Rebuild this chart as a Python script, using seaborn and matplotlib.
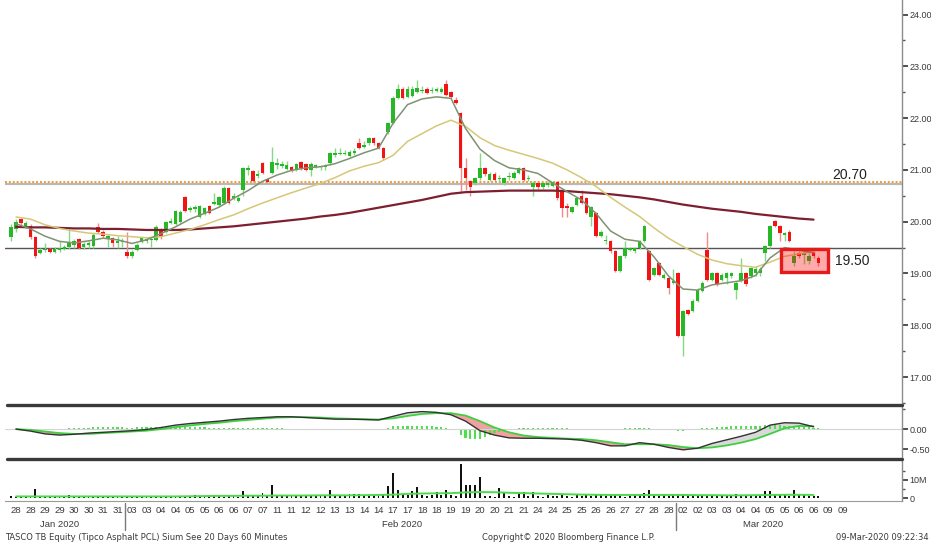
import numpy as np
import seaborn as sns
import matplotlib.pyplot as plt
from matplotlib.lines import Line2D
from matplotlib.patches import Rectangle

# ---- hourly candles, 28 Jan - 06 Mar 2020 (3 bars per half-day) ----
opens = [
    19.70, 19.85, 20.05, 19.92, 19.92, 19.70, 19.40, 19.45, 19.48, 19.42, 19.45, 19.48,
    19.52, 19.55, 19.66, 19.52, 19.55, 19.53, 19.90, 19.80, 19.66, 19.68, 19.58, 19.60,
    19.42, 19.33, 19.45, 19.60, 19.62, 19.64, 19.65, 19.85, 19.80, 19.98, 19.95, 20.00,
    20.47, 20.22, 20.25, 20.10, 20.15, 20.30, 20.35, 20.33, 20.36, 20.65, 20.45, 20.40,
    20.62, 21.00, 20.97, 20.88, 21.13, 20.82, 20.94, 21.10, 21.08, 21.02, 21.06, 21.00,
    21.16, 21.12, 21.00, 21.06, 21.05, 21.05, 21.13, 21.28, 21.30, 21.30, 21.26, 21.33,
    21.51, 21.45, 21.51, 21.61, 21.51, 21.42, 21.74, 21.90, 22.38, 22.57, 22.40, 22.42,
    22.51, 22.52, 22.57, 22.52, 22.53, 22.50, 22.65, 22.50, 22.35, 22.09, 21.03, 20.78,
    20.74, 20.84, 21.03, 20.80, 20.93, 20.82, 20.74, 20.86, 20.84, 20.94, 21.03, 20.82,
    20.67, 20.74, 20.67, 20.70, 20.68, 20.76, 20.58, 20.30, 20.18, 20.33, 20.49, 20.46,
    20.10, 20.17, 19.72, 19.62, 19.62, 19.43, 19.04, 19.33, 19.46, 19.43, 19.49, 19.62,
    19.43, 18.98, 19.20, 18.92, 18.92, 18.82, 19.01, 17.80, 18.29, 18.28, 18.47, 18.66,
    19.46, 18.88, 19.01, 18.88, 18.92, 18.95, 18.69, 18.86, 19.01, 18.95, 19.01, 19.01,
    19.40, 19.53, 20.01, 19.91, 19.75, 19.81, 19.21, 19.40, 19.36, 19.24, 19.40, 19.30,
]
highs = [
    19.95, 20.05, 20.08, 20.02, 19.95, 19.72, 19.50, 19.58, 19.50, 19.52, 19.62, 19.55,
    19.90, 19.66, 19.68, 19.60, 19.62, 19.78, 19.97, 19.83, 19.76, 19.70, 19.72, 19.68,
    19.80, 19.45, 19.58, 19.70, 19.70, 19.70, 19.93, 19.87, 20.02, 20.08, 20.22, 20.22,
    20.49, 20.30, 20.33, 20.33, 20.28, 20.32, 20.55, 20.50, 20.68, 20.67, 20.55, 20.52,
    21.06, 21.10, 21.00, 21.00, 21.16, 20.85, 21.45, 21.22, 21.18, 21.18, 21.08, 21.14,
    21.18, 21.14, 21.15, 21.12, 21.10, 21.12, 21.34, 21.42, 21.42, 21.38, 21.38, 21.42,
    21.61, 21.55, 21.63, 21.63, 21.53, 21.45, 21.93, 22.42, 22.65, 22.60, 22.62, 22.62,
    22.73, 22.62, 22.60, 22.60, 22.60, 22.60, 22.73, 22.53, 22.40, 22.12, 21.22, 20.80,
    20.86, 21.32, 21.05, 20.96, 20.95, 20.90, 20.86, 20.95, 20.97, 21.05, 21.05, 20.90,
    20.78, 20.76, 20.77, 20.78, 20.78, 20.78, 20.60, 20.36, 20.30, 20.48, 20.62, 20.48,
    20.31, 20.19, 19.84, 19.75, 19.65, 19.46, 19.35, 19.62, 19.52, 19.52, 19.65, 19.93,
    19.46, 19.13, 19.22, 19.00, 18.95, 19.08, 19.03, 18.30, 18.31, 18.50, 18.71, 18.85,
    19.81, 19.03, 19.03, 19.00, 19.03, 19.03, 18.85, 19.30, 19.03, 19.13, 19.15, 19.13,
    19.55, 19.93, 20.03, 19.93, 19.81, 19.83, 19.43, 19.43, 19.43, 19.40, 19.43, 19.33,
]
lows = [
    19.62, 19.80, 19.93, 19.88, 19.66, 19.30, 19.38, 19.42, 19.40, 19.40, 19.42, 19.45,
    19.48, 19.50, 19.48, 19.48, 19.50, 19.50, 19.78, 19.68, 19.52, 19.52, 19.50, 19.52,
    19.30, 19.30, 19.43, 19.58, 19.58, 19.52, 19.63, 19.66, 19.78, 19.95, 19.93, 19.98,
    20.18, 20.18, 20.18, 20.08, 20.12, 20.15, 20.32, 20.30, 20.34, 20.34, 20.42, 20.38,
    20.50, 20.90, 20.76, 20.85, 20.92, 20.75, 20.92, 21.02, 21.04, 21.00, 20.95, 20.98,
    21.00, 20.98, 20.88, 21.03, 21.00, 21.00, 21.10, 21.25, 21.28, 21.28, 21.24, 21.28,
    21.40, 21.43, 21.49, 21.49, 21.40, 21.20, 21.70, 21.88, 22.36, 22.36, 22.38, 22.40,
    22.48, 22.48, 22.46, 22.48, 22.50, 22.48, 22.43, 22.38, 22.28, 20.58, 20.62, 20.49,
    20.70, 20.80, 20.88, 20.78, 20.78, 20.76, 20.70, 20.80, 20.82, 20.92, 20.78, 20.78,
    20.49, 20.64, 20.64, 20.66, 20.66, 20.42, 20.10, 20.10, 20.16, 20.30, 20.34, 20.15,
    19.91, 19.70, 19.70, 19.56, 19.40, 19.02, 19.02, 19.30, 19.43, 19.40, 19.47, 19.60,
    18.85, 18.95, 18.95, 18.90, 18.60, 18.80, 17.77, 17.41, 18.19, 18.26, 18.45, 18.64,
    18.85, 18.85, 18.76, 18.86, 18.80, 18.92, 18.50, 18.84, 18.76, 18.92, 18.95, 18.95,
    19.24, 19.50, 19.89, 19.62, 19.62, 19.60, 19.15, 19.30, 19.18, 19.18, 19.30, 19.15,
]
closes = [
    19.90, 20.00, 19.97, 19.98, 19.70, 19.34, 19.46, 19.48, 19.42, 19.48, 19.50, 19.50,
    19.60, 19.62, 19.50, 19.56, 19.57, 19.75, 19.80, 19.72, 19.72, 19.58, 19.62, 19.63,
    19.33, 19.42, 19.55, 19.68, 19.66, 19.66, 19.90, 19.70, 20.00, 20.02, 20.20, 20.18,
    20.20, 20.26, 20.27, 20.30, 20.26, 20.17, 20.38, 20.48, 20.65, 20.36, 20.50, 20.45,
    21.03, 21.03, 20.78, 20.92, 20.94, 20.77, 21.15, 21.13, 21.11, 21.10, 20.97, 21.12,
    21.03, 21.00, 21.12, 21.09, 21.07, 21.08, 21.32, 21.33, 21.33, 21.33, 21.35, 21.36,
    21.42, 21.48, 21.61, 21.51, 21.42, 21.22, 21.90, 22.38, 22.57, 22.38, 22.57, 22.57,
    22.58, 22.55, 22.48, 22.55, 22.56, 22.57, 22.45, 22.41, 22.30, 21.03, 20.84, 20.67,
    20.84, 21.03, 20.92, 20.93, 20.80, 20.85, 20.84, 20.88, 20.94, 21.03, 20.81, 20.85,
    20.74, 20.67, 20.74, 20.74, 20.76, 20.46, 20.26, 20.26, 20.28, 20.46, 20.36, 20.17,
    20.29, 19.72, 19.81, 19.65, 19.43, 19.04, 19.33, 19.49, 19.49, 19.49, 19.62, 19.91,
    18.88, 19.11, 18.98, 18.98, 18.72, 18.85, 17.79, 18.28, 18.21, 18.47, 18.69, 18.82,
    18.88, 19.01, 18.79, 18.98, 19.01, 19.01, 18.82, 19.01, 18.79, 19.11, 19.08, 19.08,
    19.53, 19.91, 19.91, 19.78, 19.78, 19.62, 19.33, 19.33, 19.38, 19.33, 19.33, 19.21,
]

# volume per bar, millions of shares
volume = [
    1.2, 0.8, 0.9, 0.7, 1.0, 4.9, 0.8, 0.9, 0.7, 1.1, 0.8, 0.7, 2.0, 0.9, 0.8, 0.7, 1.0, 1.5, 0.8, 0.7, 0.9, 0.8, 0.7, 0.9,
    1.5, 0.8, 0.7, 0.9, 0.8, 0.9, 1.0, 0.8, 1.2, 0.9, 1.3, 1.0, 0.8, 1.1, 1.6, 1.2, 0.9, 1.0, 1.5, 1.0, 0.9, 1.2, 1.0, 0.9,
    4.2, 1.5, 1.0, 1.8, 2.8, 1.2, 7.1, 1.6, 1.4, 1.2, 1.3, 1.2, 1.3, 1.1, 1.0, 1.2, 1.6, 1.8, 4.6, 1.2, 1.0, 1.5, 2.5, 2.5,
    2.6, 1.2, 1.0, 1.3, 1.4, 1.6, 6.7, 13.7, 4.6, 1.8, 1.6, 3.8, 6.0, 1.8, 1.5, 1.9, 3.3, 1.8, 4.6, 1.6, 1.5, 19.0, 7.5, 7.5,
    7.5, 11.5, 1.0, 1.2, 0.8, 5.5, 3.0, 1.2, 0.8, 3.0, 3.5, 1.0, 3.2, 1.2, 0.9, 1.6, 1.2, 1.5, 2.5, 1.5, 0.9, 1.8, 1.5, 1.6,
    1.2, 1.6, 1.7, 1.4, 1.6, 2.5, 1.2, 0.9, 1.1, 1.6, 1.8, 3.0, 4.6, 1.3, 1.0, 1.6, 1.4, 2.5, 2.5, 1.8, 1.0, 1.6, 1.5, 1.2,
    1.6, 1.0, 1.4, 1.2, 1.6, 1.2, 2.5, 1.4, 1.0, 1.2, 1.6, 1.8, 4.0, 4.0, 2.0, 1.7, 1.6, 1.3, 4.4, 1.6, 2.5, 1.2, 1.0, 1.4,
]

# MACD histogram per bar
macd_hist = [
    0.0, -0.01, -0.02, -0.02, -0.03, -0.03, -0.03, -0.02, -0.02, -0.01, 0.0, 0.01, 0.02, 0.03, 0.03,
    0.04, 0.04, 0.05, 0.05, 0.05, 0.05, 0.05, 0.05, 0.05, 0.04, 0.04, 0.05, 0.05, 0.06, 0.06, 0.06, 0.06, 0.06, 0.06, 0.06, 0.05,
    0.05, 0.05, 0.05, 0.05, 0.05, 0.04, 0.04, 0.04, 0.04, 0.04, 0.04, 0.03, 0.03, 0.03, 0.03, 0.03, 0.02, 0.02, 0.02, 0.02, 0.02,
    0.01, 0.01, 0.01, 0.0, 0.0, 0.0, 0.0, -0.01, -0.01, -0.01, -0.01, -0.01, -0.01, -0.01, -0.01, -0.01, -0.01, 0.0, 0.0, 0.0, 0.01,
    0.04, 0.07, 0.09, 0.09, 0.09, 0.08, 0.08, 0.08, 0.07, 0.07, 0.06, 0.05,
    0.03, 0.01, -0.02,
    -0.15, -0.22, -0.25, -0.25, -0.24, -0.2, -0.15, -0.1, -0.06,
    0.0, 0.01, 0.01, 0.02, 0.02, 0.02, 0.02, 0.02, 0.02, 0.02, 0.02, 0.02, 0.02, 0.02, 0.01, 0.01, 0.01, 0.01, 0.01, 0.0, 0.0, -0.01, -0.01, 0.0,
    0.01, 0.02, 0.03, 0.03, 0.03, 0.04, 0.02, 0.0, -0.01, -0.02, -0.02,
    -0.03, -0.04, -0.04, -0.03, -0.02, 0.0, 0.02,
    0.03, 0.04, 0.05, 0.06, 0.06, 0.07, 0.07, 0.08, 0.08, 0.08, 0.08, 0.09, 0.1, 0.1, 0.1, 0.1, 0.09, 0.09, 0.08, 0.07, 0.06, 0.05, 0.04, 0.03,
]

# values read at the middle bar of each half-day
ma_fast = [
    19.96, 19.86, 19.72, 19.62, 19.59, 19.63, 19.68, 19.65, 19.58, 19.65, 19.77, 19.90, 20.05, 20.16,
    20.28, 20.45, 20.60, 20.78, 20.90, 20.99, 21.04, 21.06, 21.12, 21.22, 21.33, 21.42, 21.90, 22.26,
    22.37, 22.41, 22.38, 21.80, 21.40, 21.18, 21.04, 21.00, 20.93, 20.75, 20.58, 20.42, 20.16, 19.82,
    19.66, 19.62, 19.32, 18.95, 18.70, 18.68, 18.78, 18.82, 18.86, 18.96, 19.30, 19.50, 19.45, 19.40,
]
ma_mid = [
    20.09, 20.05, 19.94, 19.87, 19.82, 19.78, 19.76, 19.73, 19.71, 19.69, 19.71, 19.78, 19.85, 19.94,
    20.04, 20.13, 20.25, 20.36, 20.46, 20.56, 20.65, 20.74, 20.85, 20.98, 21.07, 21.14, 21.28, 21.55,
    21.70, 21.85, 21.96, 21.84, 21.62, 21.47, 21.38, 21.30, 21.22, 21.13, 21.00, 20.85, 20.68, 20.47,
    20.28, 20.10, 19.88, 19.68, 19.52, 19.37, 19.26, 19.19, 19.15, 19.12, 19.22, 19.33, 19.38, 19.42,
]
ma_slow = [
    19.90, 19.89, 19.89, 19.88, 19.87, 19.87, 19.86, 19.86, 19.85, 19.84, 19.84, 19.84, 19.85, 19.87,
    19.89, 19.91, 19.94, 19.97, 20.00, 20.03, 20.06, 20.10, 20.13, 20.17, 20.22, 20.27, 20.32, 20.37,
    20.42, 20.48, 20.54, 20.57, 20.58, 20.59, 20.60, 20.60, 20.60, 20.60, 20.59, 20.57, 20.55, 20.53,
    20.50, 20.47, 20.43, 20.38, 20.33, 20.29, 20.25, 20.22, 20.19, 20.15, 20.12, 20.09, 20.06, 20.04,
]
macd = [
    0.00, -0.05, -0.12, -0.15, -0.13, -0.10, -0.08, -0.06, -0.04, -0.01, 0.04, 0.10, 0.14, 0.17,
    0.20, 0.24, 0.27, 0.29, 0.31, 0.31, 0.29, 0.27, 0.25, 0.25, 0.24, 0.23, 0.32, 0.41,
    0.44, 0.42, 0.36, 0.20, -0.04, -0.15, -0.22, -0.23, -0.23, -0.24, -0.25, -0.28, -0.34, -0.42,
    -0.42, -0.34, -0.38, -0.46, -0.52, -0.48, -0.36, -0.27, -0.18, -0.08, 0.10, 0.16, 0.15, 0.06,
]
signal = [
    0.00, -0.02, -0.06, -0.10, -0.12, -0.12, -0.10, -0.08, -0.06, -0.04, 0.00, 0.05, 0.09, 0.13,
    0.16, 0.20, 0.23, 0.26, 0.29, 0.30, 0.30, 0.29, 0.27, 0.26, 0.25, 0.24, 0.27, 0.33,
    0.38, 0.40, 0.40, 0.34, 0.20, 0.04, -0.08, -0.16, -0.20, -0.22, -0.24, -0.25, -0.28, -0.33,
    -0.38, -0.38, -0.38, -0.40, -0.45, -0.48, -0.46, -0.41, -0.34, -0.25, -0.12, 0.02, 0.08, 0.07,
]
vol_ma = [
    1.0, 1.0, 1.0, 1.0, 1.0, 1.0, 1.0, 1.0, 1.0, 1.0, 1.0, 1.0, 1.1, 1.2,
    1.3, 1.3, 1.4, 1.4, 1.5, 1.5, 1.5, 1.6, 1.6, 1.6, 1.7, 1.8, 2.0, 2.4,
    2.6, 2.7, 2.8, 3.2, 3.4, 3.3, 3.0, 2.8, 2.6, 2.4, 2.2, 2.0, 1.9, 1.8,
    1.8, 1.8, 1.8, 1.8, 1.8, 1.7, 1.7, 1.6, 1.6, 1.7, 1.8, 1.9, 1.9, 1.8,
]

date_labels = ["28", "28", "29", "29", "30", "30", "31", "31",
               "03", "03", "04", "04", "05", "05", "06", "06", "07", "07", "11", "11",
               "12", "12", "13", "13", "14", "14", "17", "17", "18", "18", "19", "19",
               "20", "20", "21", "21", "24", "24", "25", "25", "26", "26", "27", "27",
               "28", "28", "02", "02", "03", "03", "04", "04", "05", "05", "06", "06",
               "09", "09"]
month_labels = ["Jan 2020", "Feb 2020", "Mar 2020"]
resistance, support = 20.70, 19.50

# ---- layout ----
sns.set_style("white")
plt.rcParams['font.family'] = ['Liberation Sans', 'DejaVu Sans']

W, H = 931, 546
fig = plt.figure(figsize=(W / 100, H / 100), dpi=100)


def rect(top, bottom):
    return [5 / W, 1 - bottom / H, 897 / W, (bottom - top) / H]


ax_p = fig.add_axes(rect(0, 404))
ax_m = fig.add_axes(rect(406, 457))
ax_v = fig.add_axes(rect(461, 501))

GREEN, GREEN_W = '#27b827', '#86d886'
RED, RED_W = '#f01414', '#f38a8a'
TXT = '#3a3a3a'

n = len(closes)
idx = np.arange(n)
slot_x = np.arange(len(ma_fast)) * 3 + 1
label_x = np.arange(len(date_labels)) * 3 + 1

o, h, l, c = map(np.array, (opens, highs, lows, closes))
up = c >= o

# price panel
ax_p.axhline(resistance + 0.02, color='#b8b8b8', lw=1.6, zorder=1)
ax_p.axhline(resistance + 0.07, color='#f39c2a', lw=1.4, ls=(0, (1, 1)), zorder=1)
ax_p.axhline(support, color='#555555', lw=1.0, zorder=1)
ax_p.vlines(idx, l, h, colors=np.where(up, GREEN_W, RED_W), lw=1, zorder=2)
ax_p.bar(idx, np.maximum(np.abs(c - o), 0.03), bottom=np.minimum(o, c), width=0.74,
         color=np.where(up, GREEN, RED), lw=0, zorder=3)
sns.lineplot(x=slot_x, y=ma_slow, ax=ax_p, color='#7d1f2f', lw=1.6, zorder=4)
sns.lineplot(x=slot_x, y=ma_mid, ax=ax_p, color='#d6c778', lw=1.1, zorder=4)
sns.lineplot(x=slot_x, y=ma_fast, ax=ax_p, color='#7f9272', lw=1.1, zorder=4)

ax_p.add_patch(Rectangle((159.3, 19.03), 9.7, 0.44, ec='#e51b1b', fc=(1, 0, 0, 0.33),
                         lw=2.4, zorder=5))
ax_p.text(169.8, 20.90, f"{resistance:.2f}", fontsize=10, color='#222222', va='center')
ax_p.text(170.5, 19.24, f"{support:.2f}", fontsize=10, color='#222222', va='center')
ax_p.set_ylim(16.48, 24.28)
ax_p.set_yticks(np.arange(17, 25))
ax_p.set_yticks(np.arange(16.5, 24.5, 1), minor=True)
ax_p.set_yticklabels([f"{v:.2f}" for v in range(17, 25)])

# MACD panel
mc, sg = np.array(macd), np.array(signal)
ax_m.axhline(0, color='#d4d4d4', lw=0.8)
ax_m.fill_between(slot_x, mc, sg, where=mc < sg, interpolate=True, color='#f2a0a0', lw=0)
ax_m.fill_between(slot_x, mc, sg, where=mc >= sg, interpolate=True, color='#d9d9d9', lw=0)
ax_m.bar(idx, macd_hist, width=0.45, color='#4fe04f', lw=0)
sns.lineplot(x=slot_x, y=signal, ax=ax_m, color='#3fcf3f', lw=1.3)
sns.lineplot(x=slot_x, y=macd, ax=ax_m, color='#333333', lw=1.0)
ax_m.set_ylim(-0.70, 0.58)
ax_m.set_yticks([-0.5, 0.0])
ax_m.set_yticks([0.5], minor=True)
ax_m.set_yticklabels(["-0.50", "0.00"])

# volume panel
ax_v.bar(idx, np.array(volume) * 1e6, width=0.4, color='#111111', lw=0)
sns.lineplot(x=slot_x, y=np.array(vol_ma) * 1e6, ax=ax_v, color='#4ddb4d', lw=1.4)
ax_v.set_ylim(-1.5e6, 20.4e6)
ax_v.set_yticks([0, 10e6])
ax_v.set_yticks([5e6, 15e6], minor=True)
ax_v.set_yticklabels(["0", "10M"])

for ax in (ax_p, ax_m, ax_v):
    ax.set_xlim(-1.28, 184.3)
    ax.set_ylabel('')
    ax.set_xlabel('')
    for s in ('left', 'top', 'bottom'):
        ax.spines[s].set_visible(False)
    ax.spines['right'].set_color('#8c8c8c')
    ax.spines['right'].set_linewidth(1.0)
    ax.yaxis.tick_right()
    ax.tick_params(axis='y', which='major', direction='out', length=4, width=1.2,
                   color='#333333', labelsize=6.5, labelcolor=TXT, pad=1.5)
    ax.tick_params(axis='y', which='minor', direction='out', length=2, width=1, color='#555555')
    ax.set_xticks([])

ax_v.spines['bottom'].set_visible(True)
ax_v.spines['bottom'].set_color('#9a9a9a')
ax_v.set_xticks(label_x)
ax_v.set_xticklabels(date_labels)
ax_v.tick_params(axis='x', length=0, pad=3.5, labelsize=6.8, labelcolor=TXT)

tr = ax_v.get_xaxis_transform()
for lab, pos in zip(month_labels, [10, 80.8, 155.5]):
    ax_v.text(pos, -0.58, lab, transform=tr, ha='center', va='center', fontsize=6.8, color=TXT)
for pos in (23.5, 137.5):
    ax_v.plot([pos, pos], [-0.05, -0.73], transform=tr, color='#7a7a7a', lw=1, clip_on=False)

# panel separators
for yy in (404.5, 458.5):
    fig.add_artist(Line2D([7 / W, 902 / W], [1 - yy / H] * 2, color='#3a3a3a', lw=2.4))

fig.text(5 / W, 1 - 537 / H, "TASCO TB Equity (Tipco Asphalt PCL) Sium See 20 Days 60 Minutes",
         fontsize=6, family='DejaVu Sans', color=TXT, va='center')
fig.text(482 / W, 1 - 537 / H, "Copyright\u00a9 2020 Bloomberg Finance L.P.",
         fontsize=6, family='DejaVu Sans', color=TXT, va='center')
fig.text(836 / W, 1 - 537 / H, "09-Mar-2020 09:22:34",
         fontsize=6, family='DejaVu Sans', color=TXT, va='center')

fig.savefig('out.png', dpi=100)
